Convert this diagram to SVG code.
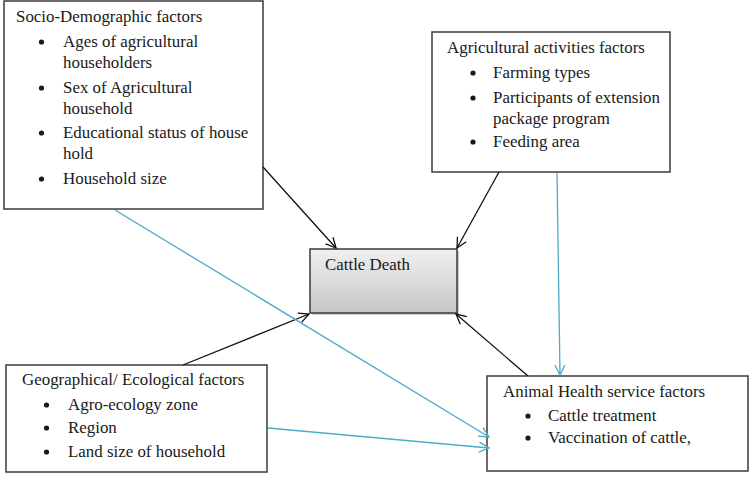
<svg xmlns="http://www.w3.org/2000/svg" width="750" height="485" viewBox="0 0 750 485">
<defs>
<style>
.box{fill:#fff;stroke:#3a3a3a;stroke-width:1.5}
.t{font-family:'Liberation Serif','Times New Roman',Times,serif;font-size:16.9px;fill:#1a1a1a}
.k{stroke:#111;stroke-width:1.3;fill:none}
.b{stroke:#4bacc6;stroke-width:1.3;fill:none}
</style>
<linearGradient id="g" x1="0" y1="0" x2="0" y2="1">
<stop offset="0" stop-color="#f0f0f0"/>
<stop offset="1" stop-color="#c6c6c6"/>
</linearGradient>
<marker id="ak" viewBox="0 0 12 12" refX="11" refY="6" markerWidth="12" markerHeight="12" markerUnits="userSpaceOnUse" orient="auto">
<path d="M1,1 L11,6 L1,11" fill="none" stroke="#111" stroke-width="1.3"/>
</marker>
<marker id="ab" viewBox="0 0 12 12" refX="11" refY="6" markerWidth="12" markerHeight="12" markerUnits="userSpaceOnUse" orient="auto">
<path d="M1,1 L11,6 L1,11" fill="none" stroke="#4bacc6" stroke-width="1.3"/>
</marker>
</defs>
<rect width="750" height="485" fill="#fff"/>

<g id="socio">
<rect class="box" x="4" y="1" width="259" height="208"/>
<text class="t" x="16" y="22">Socio-Demographic factors</text>
<g class="t">
<circle cx="41.5" cy="42" r="2.6"/><text class="t" x="63" y="47">Ages of agricultural</text>
<text class="t" x="63" y="68">householders</text>
<circle cx="41.5" cy="88" r="2.6"/><text class="t" x="63" y="93">Sex of Agricultural</text>
<text class="t" x="63" y="114">household</text>
<circle cx="41.5" cy="133" r="2.6"/><text class="t" x="63" y="138">Educational status of house</text>
<text class="t" x="63" y="159">hold</text>
<circle cx="41.5" cy="179" r="2.6"/><text class="t" x="63" y="184">Household size</text>
</g>
</g>

<g id="agri">
<rect class="box" x="432" y="32" width="238" height="140"/>
<text class="t" x="447" y="53">Agricultural activities factors</text>
<g class="t">
<circle cx="473" cy="73" r="2.6"/><text class="t" x="493" y="78">Farming types</text>
<circle cx="473" cy="98" r="2.6"/><text class="t" x="493" y="103">Participants of extension</text>
<text class="t" x="493" y="124">package program</text>
<circle cx="473" cy="142" r="2.6"/><text class="t" x="493" y="147">Feeding area</text>
</g>
</g>

<g id="cattle">
<rect x="312" y="251" width="147" height="64" fill="#9a9a9a" opacity="0.5"/>
<rect x="310" y="249" width="147" height="64" fill="url(#g)" stroke="#3a3a3a" stroke-width="1.5"/>
<text class="t" x="325" y="270">Cattle Death</text>
</g>

<g id="geo">
<rect class="box" x="6" y="365" width="261" height="107"/>
<text class="t" x="22" y="385">Geographical/ Ecological factors</text>
<g class="t">
<circle cx="46.5" cy="405" r="2.6"/><text class="t" x="68" y="410">Agro-ecology zone</text>
<circle cx="46.5" cy="428" r="2.6"/><text class="t" x="68" y="433">Region</text>
<circle cx="46.5" cy="452" r="2.6"/><text class="t" x="68" y="457">Land size of household</text>
</g>
</g>

<g id="animal">
<rect class="box" x="487" y="376" width="261" height="95"/>
<text class="t" x="503" y="397">Animal Health service factors</text>
<g class="t">
<circle cx="528" cy="416" r="2.6"/><text class="t" x="548" y="421">Cattle treatment</text>
<circle cx="528" cy="438" r="2.6"/><text class="t" x="548" y="443">Vaccination of cattle,</text>
</g>
</g>

<g id="connectors">
<line class="k" x1="263" y1="167" x2="336" y2="248" marker-end="url(#ak)"/>
<line class="k" x1="499" y1="172" x2="457" y2="248" marker-end="url(#ak)"/>
<line class="k" x1="183" y1="365" x2="309" y2="314" marker-end="url(#ak)"/>
<line class="k" x1="528" y1="376" x2="456" y2="314" marker-end="url(#ak)"/>
<line class="b" x1="115" y1="210" x2="489" y2="437" marker-end="url(#ab)"/>
<line class="b" x1="557" y1="173" x2="560" y2="375" marker-end="url(#ab)"/>
<line class="b" x1="268" y1="428" x2="489" y2="448" marker-end="url(#ab)"/>
</g>
</svg>
